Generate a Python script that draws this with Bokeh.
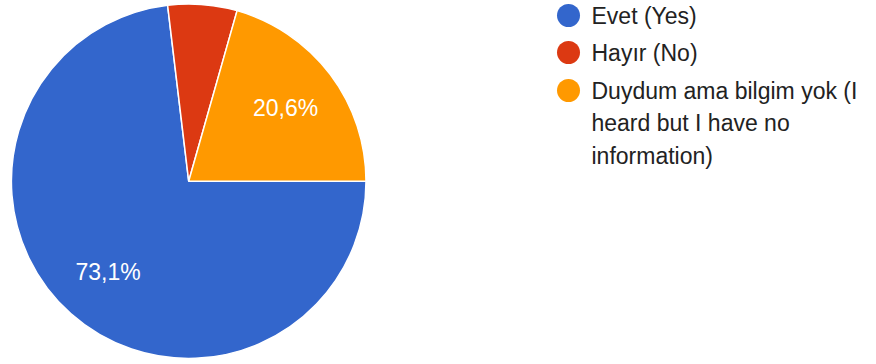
import math
from bokeh.plotting import figure
from bokeh.models import Range1d, ColumnDataSource
from bokeh.core.properties import value
from bokeh.embed import file_html
from bokeh.resources import INLINE

categories = ["Evet (Yes)", "Hayır (No)", "Duydum ama bilgim yok (I\nheard but I have no\ninformation)"]
percents = [73.1, 6.3, 20.6]
pct_labels = ["73,1%", "6,3%", "20,6%"]
colors = ["#3366CC", "#DC3912", "#FF9900"]

W, H = 876, 364
p = figure(width=W, height=H, output_backend="svg", toolbar_location=None,
           x_range=Range1d(0, W), y_range=Range1d(0, H), min_border=0)
p.axis.visible = False
p.grid.visible = False
p.outline_line_color = None
p.background_fill_color = "white"

cx, cy, r = 188.2, 183.3, 177.3
total = sum(percents)
starts, ends, lx, ly, ltxt = [], [], [], [], []
cum = 0.0
for v, t in zip(percents, pct_labels):
    a0 = cum / total * 2 * math.pi
    cum += v
    a1 = cum / total * 2 * math.pi
    # clockwise from 3 o'clock
    starts.append(-a1)
    ends.append(-a0)
    if v / total > 0.1:
        mid = -(a0 + a1) / 2
        lx.append(cx + 0.685 * r * math.cos(mid))
        ly.append(cy + 0.685 * r * math.sin(mid))
        ltxt.append(t)

src = ColumnDataSource(dict(start=starts, end=ends, color=colors))
p.wedge(x=cx, y=cy, radius=r, start_angle="start", end_angle="end",
        fill_color="color", line_color="white", line_width=1.5, source=src)

p.text(x=lx, y=ly, text=ltxt, text_color="white", text_font=value("Liberation Sans"),
       text_font_size="23px", text_align="center", text_baseline="middle")

# legend
leg_x_dot, leg_x_txt = 568, 591
item_y = [349, 312, 274]
line_h = 32.5
p.scatter(x=[leg_x_dot] * len(categories), y=item_y, size=23, marker="circle",
          fill_color=colors, line_color=None)
tx, ty, tt = [], [], []
for yy, lab in zip(item_y, categories):
    for i, line in enumerate(lab.split("\n")):
        tx.append(leg_x_txt)
        ty.append(yy - i * line_h)
        tt.append(line)
p.text(x=tx, y=ty, text=tt, text_color="#222222", text_font=value("Liberation Sans"),
       text_font_size="23px", text_align="left", text_baseline="middle")

open("out.html", "w").write(file_html(p, INLINE))
